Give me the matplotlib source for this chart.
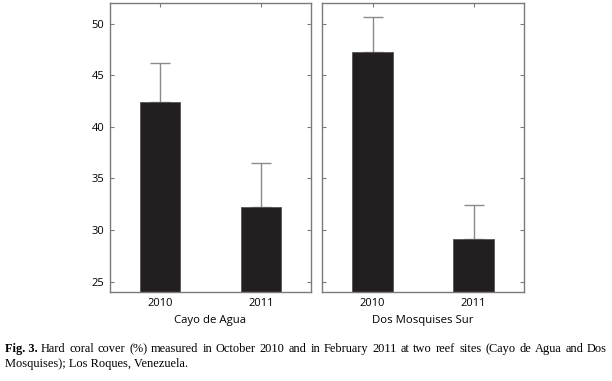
import matplotlib
matplotlib.use("Agg")
import matplotlib.pyplot as plt

years = ["2010", "2011"]
sites = ["Cayo de Agua", "Dos Mosquises Sur"]
means_cayo = [42.4, 32.2]
err_cayo = [3.8, 4.3]
means_dos = [47.3, 29.1]
err_dos = [3.3, 3.3]
yticks = [25, 30, 35, 40, 45, 50]

caption_label = "Fig. 3."
caption1 = ("Hard coral cover (%) measured in October 2010 and in February 2011 at two reef sites "
            "(Cayo de Agua and Dos")
caption2 = "Mosquises); Los Roques, Venezuela."

fig = plt.figure(figsize=(6.12, 3.81), dpi=100)
W, H = 612, 381
ax1 = fig.add_axes([110 / W, 1 - 292 / H, 201 / W, 289 / H])
ax2 = fig.add_axes([322 / W, 1 - 292 / H, 202 / W, 289 / H])

sans = ["Open Sans", "DejaVu Sans"]
spine_col = "#7a7a7a"
for ax, m, e, site in [(ax1, means_cayo, err_cayo, sites[0]), (ax2, means_dos, err_dos, sites[1])]:
    x = [1, 2]
    ax.bar(x, m, width=0.4, color="#231f20", edgecolor="#555555", linewidth=0.6, zorder=2)
    ax.errorbar(x, m, yerr=[[0, 0], e], fmt="none", ecolor="#8a8a8a", elinewidth=1.0,
                capsize=7.5, capthick=1.0, zorder=1)
    ax.set_xlim(0.5, 2.5)
    ax.set_ylim(24, 52)
    ax.set_xticks(x)
    ax.set_xticklabels(years, fontsize=8, family=sans)
    ax.set_yticks(yticks)
    ax.tick_params(axis="both", direction="in", length=3, width=0.8, color=spine_col,
                   top=True, right=True, pad=4)
    for s in ax.spines.values():
        s.set_color(spine_col)
        s.set_linewidth(1.0)
    ax.set_xlabel(site, fontsize=8.2, family=sans, labelpad=5)

ax1.set_yticklabels([str(v) for v in yticks], fontsize=8, family=sans)
ax2.set_yticklabels([])

serif = ["Liberation Serif", "DejaVu Serif"]
fs = 8.9
y1 = 1 - 349 / H
y2 = 1 - 364 / H
lbl = fig.text(5 / W, y1, caption_label, fontsize=fs, fontweight="bold", family=serif, va="center")

# justified first caption line
renderer = fig.canvas.get_renderer()
label_w = lbl.get_window_extent(renderer=renderer).width
words = caption1.split(" ")
start_px = 5 + label_w + 3
end_px = 607
texts = [fig.text(0, y1, w, fontsize=fs, family=serif, va="center") for w in words]
widths = [t.get_window_extent(renderer=renderer).width for t in texts]
gap = (end_px - start_px - sum(widths)) / (len(words) - 1)
xpos = start_px
for t, w in zip(texts, widths):
    t.set_x(xpos / W)
    xpos += w + gap

fig.text(5 / W, y2, caption2, fontsize=fs, family=serif, va="center")

fig.savefig("out.png", dpi=100)
